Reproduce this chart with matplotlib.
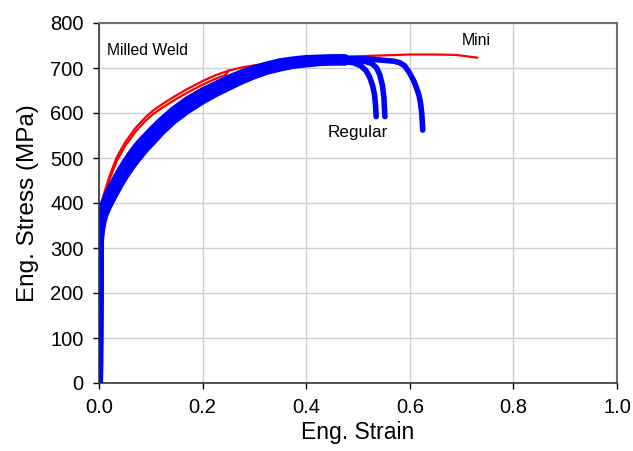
import matplotlib.pyplot as plt

plt.rcParams['font.family'] = ['Liberation Sans', 'DejaVu Sans']

# Mini specimens (red)
mini_a_strain = [0, 0.002, 0.006, 0.01, 0.02, 0.034, 0.05, 0.07, 0.09, 0.105, 0.12, 0.143,
                 0.17, 0.2, 0.225, 0.25, 0.275, 0.3, 0.35, 0.4, 0.45, 0.5, 0.55, 0.6,
                 0.65, 0.69, 0.71, 0.73]
mini_a_stress = [0, 380, 404, 422, 459, 501, 534, 566, 591, 606, 618, 635,
                 653, 671, 684, 694, 701, 706, 713, 718, 722, 726, 728, 730,
                 730, 729, 726, 723]
mini_b_strain = [0, 0.002, 0.006, 0.01, 0.02, 0.034, 0.05, 0.07, 0.09, 0.105, 0.12, 0.143,
                 0.17, 0.2, 0.225, 0.245, 0.25]
mini_b_stress = [0, 372, 396, 414, 451, 493, 526, 558, 583, 598, 610, 627,
                 645, 663, 676, 685, 694]

# Regular specimens (blue): shared strain points up to 0.475, then each tail
reg_strain = [0, 0.002, 0.004, 0.007, 0.01, 0.015, 0.02, 0.03, 0.04, 0.05, 0.06, 0.07, 0.08,
              0.09, 0.10, 0.12, 0.143, 0.17, 0.2, 0.225, 0.25, 0.275, 0.3, 0.325, 0.35,
              0.375, 0.4, 0.425, 0.45, 0.475]
reg_1_stress = [0, 320, 340, 359, 372, 386, 398, 420, 441, 460, 477, 493, 507,
                521, 533, 558, 583, 606, 628, 644, 658, 672, 684, 694, 701,
                707, 710, 713, 714, 714]
reg_2_stress = [0, 330, 352, 372, 386, 400, 412, 434, 455, 474, 491, 507, 521,
                534, 546, 570, 594, 617, 638, 653, 667, 680, 691, 700, 707,
                712, 715, 717, 718, 718]
reg_3_stress = [0, 340, 364, 385, 400, 414, 426, 448, 469, 488, 505, 521, 535,
                547, 559, 582, 605, 628, 648, 662, 676, 688, 698, 706, 713,
                717, 720, 721, 722, 722]

reg_1_tail_strain = [0.475, 0.49, 0.505, 0.515, 0.522, 0.528, 0.532, 0.534, 0.535]
reg_1_tail_stress = [714, 712, 705, 695, 681, 662, 640, 615, 592]
reg_2_tail_strain = [0.475, 0.5, 0.515, 0.527, 0.536, 0.542, 0.547, 0.55, 0.551, 0.552]
reg_2_tail_stress = [718, 717, 714, 710, 700, 685, 662, 635, 612, 592]
reg_3_tail_strain = [0.475, 0.5, 0.53, 0.55, 0.57, 0.58, 0.59, 0.599, 0.607, 0.613, 0.618,
                     0.621, 0.623, 0.624, 0.625]
reg_3_tail_stress = [722, 721, 719, 717, 715, 712, 705, 690, 673, 656, 638,
                     620, 600, 582, 562]

fig = plt.figure(figsize=(6.33, 4.51), dpi=100)
ax = fig.add_axes([99 / 633, 68 / 451, 518 / 633, 360 / 451])

ax.plot(mini_a_strain, mini_a_stress, color='#ff0000', lw=1.6)
ax.plot(mini_b_strain, mini_b_stress, color='#ff0000', lw=1.6)
for v in [reg_1_stress, reg_2_stress, reg_3_stress]:
    ax.plot(reg_strain, v, color='#0000ff', lw=5.8,
            solid_capstyle='round', solid_joinstyle='round')
for ts, tv in [(reg_1_tail_strain, reg_1_tail_stress),
               (reg_2_tail_strain, reg_2_tail_stress),
               (reg_3_tail_strain, reg_3_tail_stress)]:
    ax.plot(ts, tv, color='#0000ff', lw=4.0,
            solid_capstyle='round', solid_joinstyle='round')

ax.text(0.015, 738, 'Milled Weld', fontsize=11.3, va='center')
ax.text(0.701, 762, 'Mini', fontsize=11.4, va='center')
ax.text(0.441, 556, 'Regular', fontsize=12.3, va='center')

ax.set_xlim(0, 1.0)
ax.set_ylim(0, 800)
ax.set_xticks([0, 0.2, 0.4, 0.6, 0.8, 1.0])
ax.set_xticklabels(['0.0', '0.2', '0.4', '0.6', '0.8', '1.0'])
ax.set_yticks(range(0, 801, 100))
ax.tick_params(labelsize=14.5, direction='out', length=4, width=1, pad=7)
ax.grid(True, color='#d0d0d0', lw=1)
ax.set_axisbelow(True)
for side in ['top', 'right']:
    ax.spines[side].set_color('#707070')
    ax.spines[side].set_linewidth(1.5)
for side in ['left', 'bottom']:
    ax.spines[side].set_color('#333333')
    ax.spines[side].set_linewidth(1.2)

ax.set_xlabel('Eng. Strain', fontsize=16.5, labelpad=3)
ax.set_ylabel('Eng. Stress (MPa)', fontsize=17.5, labelpad=8)

fig.savefig('out.png', dpi=100)
